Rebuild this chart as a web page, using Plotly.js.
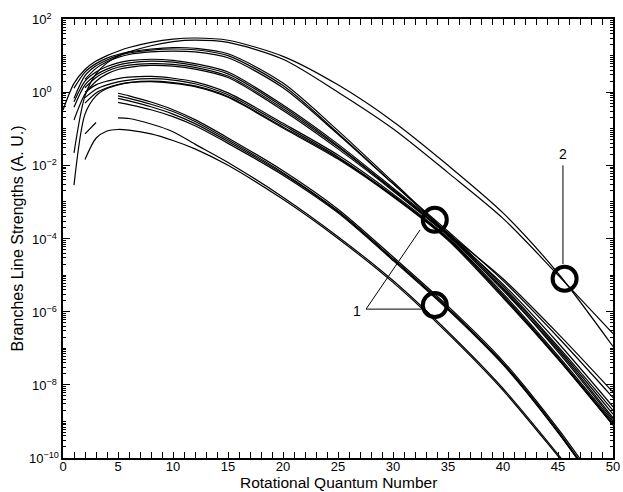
<!DOCTYPE html>
<html><head><meta charset="utf-8">
<script src="https://cdn.plot.ly/plotly-3.0.1.min.js"></script>
<style>html,body{margin:0;padding:0;background:#fff}</style>
</head><body><div id="chart" style="width:623px;height:492px"></div>
<script>
// Rotational quantum number grid
const J = [0,1,2,3,4,5,6,8,10,12,15,20,25,30,35,40,45,50];
// log10 of branch line strength (A.U.)
const A1 = [-0.49,0.24,0.62,0.85,1.0,1.12,1.22,1.36,1.45,1.48,1.42,0.98,0.2,-0.8,-2.0,-3.3,-4.95,-6.95];
const A2 = [null,-1.66,-0.1,0.5,0.8,0.98,1.1,1.27,1.38,1.42,1.36,0.9,0.0,-1.0,-2.2,-3.45,-5.0,-6.6];
const B1 = [null,0.11,0.55,0.78,0.93,1.03,1.1,1.18,1.22,1.2,1.05,0.25,-1.05,-2.45,-3.85,-5.1,-6.6,-8.2];
const B2 = [null,-0.17,0.45,0.72,0.88,1.0,1.07,1.15,1.18,1.16,1.0,0.18,-1.12,-2.5,-3.88,-5.25,-6.85,-8.6];
const B3 = [null,null,0.35,0.65,0.83,0.95,1.03,1.1,1.12,1.1,0.94,0.12,-1.15,-2.5,-3.8,-5.15,-6.7,-8.35];
const C1 = [null,-0.26,0.3,0.55,0.7,0.8,0.86,0.9,0.87,0.78,0.55,-0.35,-1.42,-2.62,-3.85,-5.3,-6.95,-8.7];
const C2 = [null,-0.41,0.2,0.47,0.63,0.74,0.8,0.85,0.82,0.73,0.5,-0.4,-1.47,-2.66,-3.9,-5.38,-7.1,-8.95];
const C3 = [null,null,0.12,0.4,0.57,0.68,0.74,0.78,0.76,0.68,0.44,-0.45,-1.5,-2.67,-3.9,-5.35,-7.0,-8.8];
const C4 = [null,-0.76,-0.05,0.3,0.5,0.62,0.68,0.73,0.71,0.63,0.4,-0.5,-1.55,-2.7,-3.93,-5.42,-7.05,-8.9];
const D1 = [null,null,0.0,0.2,0.3,0.37,0.41,0.43,0.38,0.28,-0.02,-0.85,-1.72,-2.78,-3.98,-5.5,-7.2,-9.0];
const D2 = [null,null,-0.15,0.08,0.2,0.28,0.33,0.37,0.33,0.23,-0.07,-0.9,-1.77,-2.82,-4.0,-5.55,-7.25,-9.05];
const D3 = [null,-2.54,-0.6,-0.1,0.1,0.2,0.26,0.3,0.26,0.17,-0.12,-0.95,-1.8,-2.84,-4.02,-5.58,-7.28,-9.1];
const D4 = [null,null,-0.3,-0.02,0.12,0.21,0.26,0.29,0.24,0.15,-0.14,-0.98,-1.83,-2.86,-4.05,-5.62,-7.3,-9.1];
const E1 = [null,null,null,null,null,-0.03,-0.1,-0.27,-0.48,-0.75,-1.25,-2.15,-3.2,-4.5,-5.85,-7.35,-9.2,-11.3];
const E2 = [null,null,null,null,null,-0.1,-0.17,-0.33,-0.53,-0.8,-1.3,-2.2,-3.25,-4.55,-5.9,-7.4,-9.25,-11.4];
const E3 = [null,null,null,null,null,-0.17,-0.24,-0.4,-0.6,-0.86,-1.35,-2.23,-3.27,-4.57,-5.92,-7.42,-9.3,-11.4];
const E4 = [null,null,null,null,null,-0.28,-0.34,-0.48,-0.67,-0.92,-1.4,-2.27,-3.3,-4.6,-5.95,-7.45,-9.3,-11.4];
const F1 = [null,null,-1.14,-0.83,null,-0.70,-0.72,-0.87,-1.08,-1.42,-1.92,-2.87,-3.95,-5.15,-6.55,-8.1,-9.9,-11.8];
const F2 = [null,null,-1.84,-1.26,-1.06,-1.02,-1.04,-1.14,-1.32,-1.55,-2.0,-2.93,-4.0,-5.2,-6.6,-8.15,-9.95,-11.8];
const series = [A1,A2,B1,B2,B3,C1,C2,C3,C4,D1,D2,D3,D4,E1,E2,E3,E4,F1,F2];

// Circled groups and callouts (J, log10 strength)
const circleJ = [33.8, 33.8, 45.6];
const circleLog = [-3.49, -5.82, -5.1];
const callout1J = [32.45, 27.55, 32.6];
const callout1Log = [-3.77, -5.93, -5.93];
const callout2J = [45.45, 45.45];
const callout2Log = [-2.0, -4.7];
const labels = [{t:'1', j:27.3, lg:-5.97, xa:'right'}, {t:'2', j:45.45, lg:-1.69, xa:'center'}];

// Axis tick labels (log decades)
const yLabelDecades = [-10,-8,-6,-4,-2,0,2];
const xTitle = 'Rotational Quantum Number';
const yTitle = 'Branches Line Strengths (A. U.)';

const toVal = a => a.map(v => v === null ? null : Math.pow(10, v));
const traces = series.map(s => ({
  x: J, y: toVal(s), type: 'scatter', mode: 'lines',
  line: {color: '#000', width: 1.2, shape: 'spline', smoothing: 0.8},
  connectgaps: false, showlegend: false, hoverinfo: 'skip'
}));
traces.push({x: callout1J, y: toVal(callout1Log), mode: 'lines', line: {color:'#000', width:1}, showlegend:false, hoverinfo:'skip'});
traces.push({x: callout2J, y: toVal(callout2Log), mode: 'lines', line: {color:'#000', width:1}, showlegend:false, hoverinfo:'skip'});
traces.push({x: circleJ, y: toVal(circleLog), mode: 'markers',
  marker: {symbol: 'circle-open', size: 24, color: '#000', line: {width: 4, color: '#000'}},
  showlegend: false, hoverinfo: 'skip'});

const yTickVals = yLabelDecades.map(d => Math.pow(10, d));
const yMinor = [];
for (let d = -10; d < 2; d++) {
  for (let m = 2; m <= 9; m++) yMinor.push(m * Math.pow(10, d));
  if (d % 2 !== 0) yMinor.push(Math.pow(10, d));
}

const font = {family: '"Liberation Sans", Arial, sans-serif', color: '#000'};
const annotations = labels.map(l => ({
  x: l.j, y: l.lg, xref: 'x', yref: 'y', text: l.t, showarrow: false,
  xanchor: l.xa, yanchor: 'middle', font: Object.assign({size: 14}, font)
}));
// left-aligned y tick labels, as in the reference
yLabelDecades.forEach(d => annotations.push({
  x: d === -10 ? -0.066 : -0.06, xref: 'paper', y: d, yref: 'y', xanchor: 'left', yanchor: 'middle',
  text: '10<sup>' + (d < 0 ? '\u2212' + (-d) : d) + '</sup>', showarrow: false,
  font: Object.assign({size: 13}, font)
}));
annotations.push({x: 0.5, xref: 'paper', y: -0.0565, yref: 'paper', xanchor: 'center', yanchor: 'middle',
  text: xTitle, showarrow: false, font: Object.assign({size: 15.5}, font)});
annotations.push({x: -0.082, xref: 'paper', y: 0.5, yref: 'paper', xanchor: 'center', yanchor: 'middle',
  text: yTitle, textangle: -90, showarrow: false, font: Object.assign({size: 16}, font)});

const layout = {
  width: 623, height: 492,
  margin: {l: 63, r: 10, t: 19, b: 34},
  paper_bgcolor: '#fff', plot_bgcolor: '#fff',
  font: Object.assign({size: 13}, font),
  xaxis: {
    range: [0, 50], tick0: 0, dtick: 5, ticks: 'inside', ticklen: 6, tickwidth: 1, tickcolor: '#000',
    ticklabelstandoff: -5,
    minor: {dtick: 1, ticks: 'inside', ticklen: 6, tickwidth: 1, tickcolor: '#000'},
    showline: true, linewidth: 2, linecolor: '#000', mirror: 'allticks',
    showgrid: false, zeroline: false, automargin: false,
    tickfont: Object.assign({size: 13}, font)
  },
  yaxis: {
    type: 'log', range: [-10, 2], tickmode: 'array', tickvals: yTickVals, showticklabels: false,
    ticks: 'inside', ticklen: 7, tickwidth: 1, tickcolor: '#000',
    minor: {tickmode: 'array', tickvals: yMinor, ticks: 'inside', ticklen: 3, tickwidth: 1, tickcolor: '#000'},
    showline: true, linewidth: 2, linecolor: '#000', mirror: 'allticks',
    showgrid: false, zeroline: false, automargin: false
  },
  annotations: annotations
};
Plotly.newPlot('chart', traces, layout, {staticPlot: true, displayModeBar: false});
</script></body></html>
